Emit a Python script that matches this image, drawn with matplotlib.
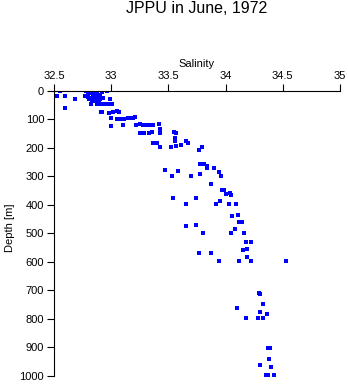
import matplotlib
matplotlib.use('Agg')
from matplotlib import pyplot as plt

plt.rcParams['font.family'] = ['Liberation Sans', 'DejaVu Sans']

# salinity / depth samples
salinity = [32.55, 32.53, 32.60, 32.68, 32.60,
            32.78, 32.80, 32.82, 32.84, 32.86, 32.88, 32.92, 32.96,
            32.77, 32.80, 32.82, 32.84, 32.86, 32.88, 32.80, 32.83, 32.85, 32.87, 32.90, 32.92,
            32.81, 32.84, 32.87, 32.90, 32.93, 32.99,
            32.83, 32.86, 32.89,
            32.82, 32.88, 32.91, 32.94, 32.97, 33.01,
            32.92, 32.91, 32.98, 33.02, 33.05, 33.07,
            33.00, 33.05, 33.09, 33.11,
            33.00, 33.10,
            33.15, 33.17, 33.19, 33.21,
            33.22, 33.25, 33.28, 33.31, 33.34, 33.37, 33.42,
            33.25, 33.29, 33.33, 33.36,
            33.43, 33.43,
            33.37, 33.40, 33.43,
            33.55, 33.57, 33.56, 33.56, 33.57, 33.52,
            33.61, 33.65, 33.67,
            33.79, 33.77, 33.78, 33.81, 33.84, 33.84, 33.90, 33.94, 33.96, 33.70, 33.78,
            33.47, 33.58, 33.53,
            33.87, 33.97, 33.99, 34.00, 34.04, 34.05,
            33.54, 33.74, 33.65, 33.95, 33.92, 34.03, 34.09,
            34.11, 34.06, 34.12, 34.14,
            33.65, 33.74, 33.80, 34.08, 34.05, 34.16,
            34.18, 34.22, 34.15, 34.19,
            33.77, 33.87, 33.94, 34.19, 34.12, 34.22, 34.53,
            34.29, 34.30, 34.33, 34.10, 34.30, 34.36, 34.18, 34.28, 34.33,
            34.37, 34.39, 34.38, 34.30, 34.40, 34.35, 34.37, 34.42]
depth = [0, 19, 19, 29, 60,
         0, 0, 0, 0, 0, 0, 0, 0,
         19, 12, 10, 15, 8, 12, 22, 25, 20, 25, 15, 5,
         30, 33, 30, 28, 25, 29,
         36, 38, 36,
         48, 48, 48, 48, 48, 48,
         74, 74, 78, 74, 72, 74,
         97, 100, 98, 101,
         123, 121,
         97, 97, 96, 94,
         121, 118, 119, 120, 120, 120, 118,
         147, 147, 147, 145,
         135, 147,
         184, 184, 198,
         144, 149, 165, 175, 195, 198,
         191, 177, 182,
         198, 209, 258, 258, 265, 272, 272, 284, 299, 299, 291,
         278, 283, 300,
         328, 349, 349, 363, 360, 367,
         377, 377, 398, 388, 398, 398, 398,
         436, 440, 460, 460,
         474, 471, 499, 486, 500, 499,
         530, 530, 558, 555,
         570, 568, 598, 582, 598, 598, 598,
         709, 714, 749, 763, 776, 784, 798, 798, 798,
         902, 902, 942, 963, 970, 998, 998, 998]

x_ticks = [32.5, 33, 33.5, 34, 34.5, 35]
x_labels = ['32.5', '33', '33.5', '34', '34.5', '35']
y_ticks = [0, 100, 200, 300, 400, 500, 600, 700, 800, 900, 1000]

fig = plt.figure(figsize=(3.48, 3.84), dpi=100)
ax = fig.add_axes([0.155, 0.021, 0.822, 0.743])

ax.plot(salinity, depth, linestyle='none', marker='s', markersize=2.4,
        color='#0000ff', markeredgewidth=0)

ax.set_xlim(32.5, 35)
ax.set_ylim(1000, 0)
ax.xaxis.tick_top()
ax.xaxis.set_label_position('top')
ax.set_xticks(x_ticks)
ax.set_xticklabels(x_labels)
ax.set_yticks(y_ticks)
ax.set_xlabel('Salinity', fontsize=8, labelpad=3)
ax.set_ylabel('Depth [m]', fontsize=8)
ax.yaxis.set_label_coords(-0.135, 0.52)
ax.tick_params(labelsize=8, length=5, width=0.8, color='black', pad=2)
ax.spines['right'].set_visible(False)
ax.spines['bottom'].set_visible(False)
for s in ['top', 'left']:
    ax.spines[s].set_linewidth(0.8)

# title sits centred over the plot area
fig.text(0.566, 0.978, 'JPPU in June, 1972', fontsize=11.5, ha='center', va='center')

fig.savefig('out.png', dpi=100)
